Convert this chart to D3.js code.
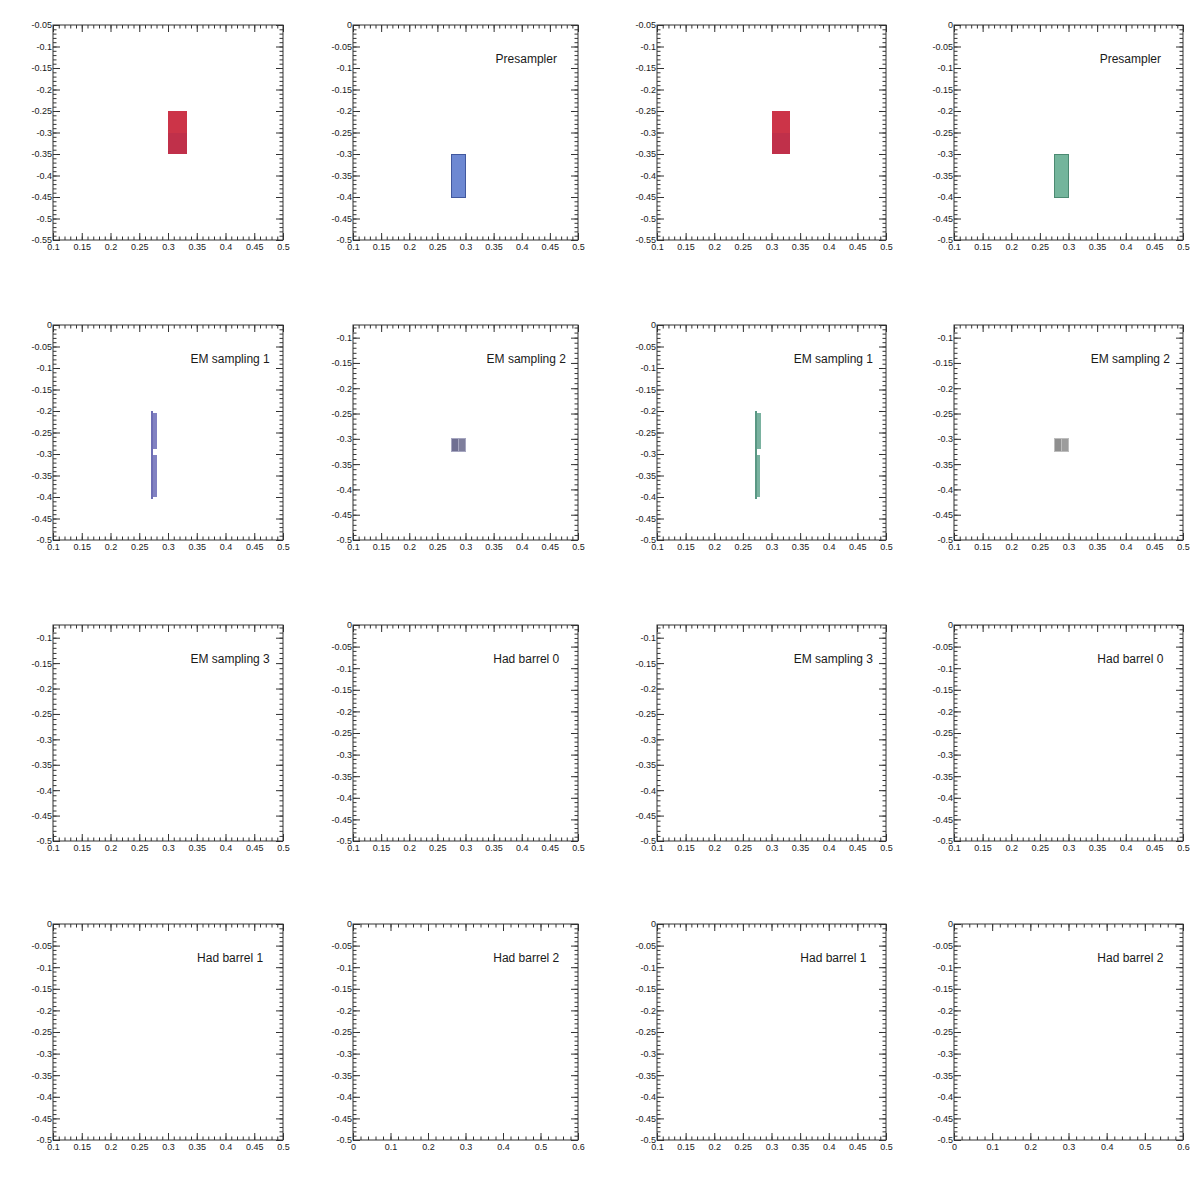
<!DOCTYPE html>
<html>
<head>
<meta charset="utf-8">
<script src="https://cdn.jsdelivr.net/npm/d3@7"></script>
<style>
  body { margin: 0; background: #ffffff; }
  svg { display: block; font-family: "Liberation Sans", Arial, Helvetica, sans-serif; }
</style>
</head>
<body>
<svg id="chart" width="1198" height="1191"></svg>
<script>
// ---- Panel contents (row by row, 4 columns) ----
const layerNames = [
  "", "Presampler", "", "Presampler",
  "EM sampling 1", "EM sampling 2", "EM sampling 1", "EM sampling 2",
  "EM sampling 3", "Had barrel 0", "EM sampling 3", "Had barrel 0",
  "Had barrel 1", "Had barrel 2", "Had barrel 1", "Had barrel 2"
];

// eta axis range of each panel
const etaRanges = [
  [0.1, 0.5], [0.1, 0.5], [0.1, 0.5], [0.1, 0.5],
  [0.1, 0.5], [0.1, 0.5], [0.1, 0.5], [0.1, 0.5],
  [0.1, 0.5], [0.1, 0.5], [0.1, 0.5], [0.1, 0.5],
  [0.1, 0.5], [0.0, 0.6], [0.1, 0.5], [0.0, 0.6]
];

// phi axis range of each panel
const phiRanges = [
  [-0.55, -0.05], [-0.5, 0], [-0.55, -0.05], [-0.5, 0],
  [-0.5, 0], [-0.5, -0.075], [-0.5, 0], [-0.5, -0.075],
  [-0.5, -0.075], [-0.5, 0], [-0.5, -0.075], [-0.5, 0],
  [-0.5, 0], [-0.5, 0], [-0.5, 0], [-0.5, 0]
];

// labelled tick values
const etaTicksFine   = [0.1, 0.15, 0.2, 0.25, 0.3, 0.35, 0.4, 0.45, 0.5];
const etaTicksCoarse = [0, 0.1, 0.2, 0.3, 0.4, 0.5, 0.6];
const phiTicksLow    = [-0.55, -0.5, -0.45, -0.4, -0.35, -0.3, -0.25, -0.2, -0.15, -0.1, -0.05];
const phiTicksFull   = [-0.5, -0.45, -0.4, -0.35, -0.3, -0.25, -0.2, -0.15, -0.1, -0.05, 0];
const phiTicksCut    = [-0.5, -0.45, -0.4, -0.35, -0.3, -0.25, -0.2, -0.15, -0.1];

// energy deposits: panel, eta span, phi span, colour group
const cells = [
  { panel: 0, eta0: 0.300, eta1: 0.333, phi0: -0.25, phi1: -0.30, group: "redTop" },
  { panel: 0, eta0: 0.300, eta1: 0.333, phi0: -0.30, phi1: -0.35, group: "redBottom" },
  { panel: 2, eta0: 0.300, eta1: 0.333, phi0: -0.25, phi1: -0.30, group: "redTop" },
  { panel: 2, eta0: 0.300, eta1: 0.333, phi0: -0.30, phi1: -0.35, group: "redBottom" },
  { panel: 1, eta0: 0.275, eta1: 0.300, phi0: -0.30, phi1: -0.40, group: "blue" },
  { panel: 3, eta0: 0.275, eta1: 0.300, phi0: -0.30, phi1: -0.40, group: "green" },

  { panel: 4, eta0: 0.2713, eta1: 0.2738, phi0: -0.200, phi1: -0.405, group: "purple" },
  { panel: 4, eta0: 0.2738, eta1: 0.2815, phi0: -0.205, phi1: -0.288, group: "purpleLight" },
  { panel: 4, eta0: 0.2738, eta1: 0.2800, phi0: -0.302, phi1: -0.400, group: "purpleLight" },
  { panel: 6, eta0: 0.2713, eta1: 0.2738, phi0: -0.200, phi1: -0.405, group: "teal" },
  { panel: 6, eta0: 0.2738, eta1: 0.2815, phi0: -0.205, phi1: -0.288, group: "tealLight" },
  { panel: 6, eta0: 0.2738, eta1: 0.2800, phi0: -0.302, phi1: -0.400, group: "tealLight" },

  { panel: 5, eta0: 0.2750, eta1: 0.2875, phi0: -0.300, phi1: -0.325, group: "slate" },
  { panel: 5, eta0: 0.2875, eta1: 0.3000, phi0: -0.300, phi1: -0.325, group: "slateLight" },
  { panel: 7, eta0: 0.2750, eta1: 0.2875, phi0: -0.300, phi1: -0.325, group: "grey" },
  { panel: 7, eta0: 0.2875, eta1: 0.3000, phi0: -0.300, phi1: -0.325, group: "greyLight" }
];

// ---- Styling ----
const palette = {
  redTop:      { fill: "#cc3448", stroke: "none" },
  redBottom:   { fill: "#c0304a", stroke: "none" },
  blue:        { fill: "#6d88d2", stroke: "#41589e" },
  green:       { fill: "#74b59c", stroke: "#4c8a72" },
  purple:      { fill: "#6e6eb4", stroke: "none" },
  purpleLight: { fill: "#8282c2", stroke: "none" },
  teal:        { fill: "#5a9884", stroke: "none" },
  tealLight:   { fill: "#7ab2a0", stroke: "none" },
  slate:       { fill: "#6f6f92", stroke: "#a6a6c0" },
  slateLight:  { fill: "#7e7e9c", stroke: "#a6a6c0" },
  grey:        { fill: "#8f8f8f", stroke: "#bdbdbd" },
  greyLight:   { fill: "#9c9c9c", stroke: "#bdbdbd" }
};

const frameLeft   = [53, 353, 657, 954];
const frameRight  = [283, 578, 886, 1183];
const frameTop    = [25, 325, 625, 924];
const frameBottom = [240, 540, 841, 1140];

const majorLen = 7, minorLen = 3.5;
const axisColor = "#333";
const fmt = v => {
  if (Math.abs(v) < 1e-9) return "0";
  return (+v.toFixed(3)).toString();
};

const svg = d3.select("#chart");

function minorValues(lo, hi, step) {
  const start = Math.ceil(lo / step - 1e-6);
  const out = [];
  for (let k = start; k * step <= hi + 1e-9; k++) out.push(+(k * step).toFixed(4));
  return out;
}

function styleAxis(g) {
  g.select(".domain").remove();
  g.selectAll(".tick line").attr("stroke", axisColor).attr("stroke-width", 1);
}

layerNames.forEach((name, p) => {
  const row = Math.floor(p / 4), col = p % 4;
  const x0 = frameLeft[col], x1 = frameRight[col];
  const y0 = frameTop[row], y1 = frameBottom[row];
  const W = x1 - x0, H = y1 - y0;

  const eta = etaRanges[p], phi = phiRanges[p];
  const x = d3.scaleLinear().domain(eta).range([0, W]);
  const y = d3.scaleLinear().domain(phi).range([H, 0]);

  const wide = eta[1] - eta[0] > 0.5;
  const etaMajor = wide ? etaTicksCoarse : etaTicksFine;
  const etaStep = wide ? 0.02 : 0.01;
  let phiMajor;
  if (phi[0] < -0.52) phiMajor = phiTicksLow;
  else if (phi[1] < -0.06) phiMajor = phiTicksCut;
  else phiMajor = phiTicksFull;

  const etaMinor = minorValues(eta[0], eta[1], etaStep);
  const phiMinor = minorValues(phi[0], phi[1], 0.01);

  const g = svg.append("g").attr("transform", `translate(${x0},${y0})`);

  // deposits
  g.append("g")
    .attr("shape-rendering", "crispEdges")
    .selectAll("rect")
    .data(cells.filter(c => c.panel === p))
    .join("rect")
    .attr("x", c => x(c.eta0))
    .attr("y", c => y(c.phi0))
    .attr("width", c => x(c.eta1) - x(c.eta0))
    .attr("height", c => y(c.phi1) - y(c.phi0))
    .attr("fill", c => palette[c.group].fill)
    .attr("stroke", c => palette[c.group].stroke)
    .attr("stroke-width", 1);

  // minor ticks on all four sides
  g.append("g").attr("transform", `translate(0,${H})`)
    .call(d3.axisBottom(x).tickValues(etaMinor).tickSize(-minorLen).tickFormat(""))
    .call(styleAxis);
  g.append("g")
    .call(d3.axisTop(x).tickValues(etaMinor).tickSize(-minorLen).tickFormat(""))
    .call(styleAxis);
  g.append("g")
    .call(d3.axisLeft(y).tickValues(phiMinor).tickSize(-minorLen).tickFormat(""))
    .call(styleAxis);
  g.append("g").attr("transform", `translate(${W},0)`)
    .call(d3.axisRight(y).tickValues(phiMinor).tickSize(-minorLen).tickFormat(""))
    .call(styleAxis);

  // labelled ticks
  const bottom = g.append("g").attr("transform", `translate(0,${H})`)
    .call(d3.axisBottom(x).tickValues(etaMajor).tickSize(-majorLen).tickPadding(4).tickFormat(fmt))
    .call(styleAxis);
  g.append("g")
    .call(d3.axisTop(x).tickValues(etaMajor).tickSize(-majorLen).tickFormat(""))
    .call(styleAxis);
  const left = g.append("g")
    .call(d3.axisLeft(y).tickValues(phiMajor).tickSize(-majorLen).tickPadding(1).tickFormat(fmt))
    .call(styleAxis);
  g.append("g").attr("transform", `translate(${W},0)`)
    .call(d3.axisRight(y).tickValues(phiMajor).tickSize(-majorLen).tickFormat(""))
    .call(styleAxis);

  [bottom, left].forEach(a => a.selectAll("text")
    .attr("fill", "#1a1a1a")
    .style("font-size", "9px")
    .style("font-family", "'Liberation Sans', Arial, sans-serif"));

  // frame
  g.append("rect")
    .attr("x", 0).attr("y", 0).attr("width", W).attr("height", H)
    .attr("fill", "none").attr("stroke", axisColor).attr("stroke-width", 1);

  // layer name
  if (name) {
    g.append("text")
      .attr("x", W * 0.77)
      .attr("y", 34)
      .attr("dy", "0.35em")
      .attr("text-anchor", "middle")
      .attr("fill", "#1a1a1a")
      .style("font-size", "12px")
      .text(name);
  }
});
</script>
</body>
</html>
